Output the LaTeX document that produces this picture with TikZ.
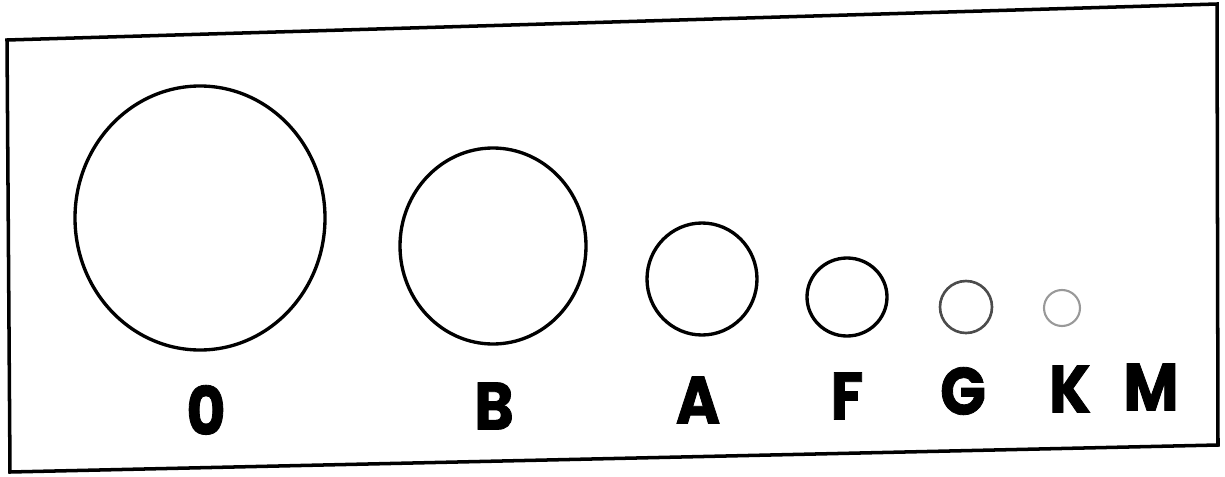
\documentclass[tikz,border=0pt]{standalone}
\usepackage{fontspec}
\setmainfont{Poppins}[BoldFeatures={FakeBold=1.2,FakeStretch=0.9}]
\begin{document}
\begin{tikzpicture}[x=0.02cm,y=-0.02cm,
  ring/.style={draw=black,line width=1.9pt},
  lab/.style={font=\fontsize{38}{38}\selectfont\bfseries,inner sep=0pt,anchor=center}]
\useasboundingbox (0,0) rectangle (1225,477);
\draw[line width=2pt] (7,40) -- (1217,4) -- (1218,445) -- (10,472) -- cycle;
\draw[ring] (200,218) ellipse [x radius=125, y radius=132];
\draw[ring] (493,246) ellipse [x radius=93, y radius=98];
\draw[ring] (702,279) ellipse [x radius=55, y radius=56];
\draw[ring] (847,297) ellipse [x radius=40, y radius=39];
\draw[ring,draw=black!70,line width=1.5pt] (966,307) circle [radius=26];
\draw[ring,draw=black!40,line width=1.2pt] (1062,308) circle [radius=18];
\node[lab] (l0) at (206,410) {0};
\node[lab] (lB) at (494,406) {B};
\node[lab] (lA) at (698,400) {A};
\node[lab] (lF) at (847,396) {F};
\node[lab] (lG) at (963,391) {G};
\node[lab] (lK) at (1070,389) {K};
\node[lab] (lM) at (1151,387) {M};
\end{tikzpicture}
\end{document}
